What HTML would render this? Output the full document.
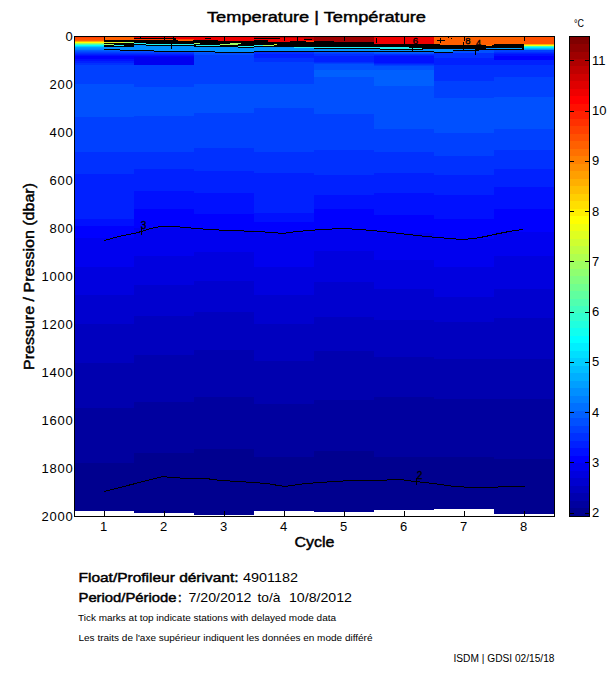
<!DOCTYPE html>
<html><head><meta charset="utf-8">
<style>
html,body{margin:0;padding:0;background:#fff;}
body{width:611px;height:675px;position:relative;overflow:hidden;}
svg{position:absolute;left:0;top:0;}
text{font-family:"Liberation Sans",sans-serif;fill:#000;}
</style></head><body>
<svg width="611" height="675" viewBox="0 0 611 675" shape-rendering="crispEdges">
<g id="heat">
<rect x="75" y="50" width="59" height="1" fill="#0060ff"/>
<rect x="75" y="51" width="59" height="1" fill="#0050ff"/>
<rect x="75" y="52" width="59" height="1" fill="#0040ff"/>
<rect x="75" y="53" width="59" height="1" fill="#0030ff"/>
<rect x="75" y="54" width="59" height="1" fill="#0020ff"/>
<rect x="75" y="55" width="59" height="1" fill="#0010ff"/>
<rect x="75" y="56" width="59" height="3" fill="#0000ff"/>
<rect x="75" y="59" width="59" height="2" fill="#0010ff"/>
<rect x="75" y="61" width="59" height="2" fill="#0020ff"/>
<rect x="75" y="63" width="59" height="2" fill="#0030ff"/>
<rect x="75" y="65" width="59" height="19" fill="#0040ff"/>
<rect x="75" y="84" width="59" height="33" fill="#0050ff"/>
<rect x="75" y="117" width="59" height="35" fill="#0040ff"/>
<rect x="75" y="152" width="59" height="22" fill="#0030ff"/>
<rect x="75" y="174" width="59" height="45" fill="#0020ff"/>
<rect x="75" y="219" width="59" height="7" fill="#0010ff"/>
<rect x="75" y="226" width="59" height="12" fill="#0000ff"/>
<rect x="75" y="238" width="59" height="29" fill="#0000ef"/>
<rect x="75" y="267" width="59" height="28" fill="#0000df"/>
<rect x="75" y="295" width="59" height="29" fill="#0000cf"/>
<rect x="75" y="324" width="59" height="39" fill="#0000bf"/>
<rect x="75" y="363" width="59" height="45" fill="#0000af"/>
<rect x="75" y="408" width="59" height="55" fill="#00009f"/>
<rect x="75" y="463" width="59" height="48" fill="#00008f"/>
<rect x="134" y="50" width="60" height="2" fill="#0050ff"/>
<rect x="134" y="52" width="60" height="1" fill="#0040ff"/>
<rect x="134" y="53" width="60" height="1" fill="#0030ff"/>
<rect x="134" y="54" width="60" height="1" fill="#0020ff"/>
<rect x="134" y="55" width="60" height="1" fill="#0010ff"/>
<rect x="134" y="56" width="60" height="1" fill="#0000ff"/>
<rect x="134" y="57" width="60" height="8" fill="#0000ef"/>
<rect x="134" y="65" width="60" height="22" fill="#0040ff"/>
<rect x="134" y="87" width="60" height="29" fill="#0050ff"/>
<rect x="134" y="116" width="60" height="36" fill="#0040ff"/>
<rect x="134" y="152" width="60" height="17" fill="#0030ff"/>
<rect x="134" y="169" width="60" height="22" fill="#0020ff"/>
<rect x="134" y="191" width="60" height="18" fill="#0010ff"/>
<rect x="134" y="209" width="60" height="19" fill="#0000ff"/>
<rect x="134" y="228" width="60" height="28" fill="#0000ef"/>
<rect x="134" y="256" width="60" height="29" fill="#0000df"/>
<rect x="134" y="285" width="60" height="31" fill="#0000cf"/>
<rect x="134" y="316" width="60" height="39" fill="#0000bf"/>
<rect x="134" y="355" width="60" height="47" fill="#0000af"/>
<rect x="134" y="402" width="60" height="51" fill="#00009f"/>
<rect x="134" y="453" width="60" height="60" fill="#00008f"/>
<rect x="194" y="50" width="60" height="3" fill="#0060ff"/>
<rect x="194" y="53" width="60" height="2" fill="#0050ff"/>
<rect x="194" y="55" width="60" height="29" fill="#0040ff"/>
<rect x="194" y="84" width="60" height="29" fill="#0050ff"/>
<rect x="194" y="113" width="60" height="35" fill="#0040ff"/>
<rect x="194" y="148" width="60" height="23" fill="#0030ff"/>
<rect x="194" y="171" width="60" height="22" fill="#0020ff"/>
<rect x="194" y="193" width="60" height="21" fill="#0010ff"/>
<rect x="194" y="214" width="60" height="16" fill="#0000ff"/>
<rect x="194" y="230" width="60" height="22" fill="#0000ef"/>
<rect x="194" y="252" width="60" height="29" fill="#0000df"/>
<rect x="194" y="281" width="60" height="31" fill="#0000cf"/>
<rect x="194" y="312" width="60" height="38" fill="#0000bf"/>
<rect x="194" y="350" width="60" height="47" fill="#0000af"/>
<rect x="194" y="397" width="60" height="52" fill="#00009f"/>
<rect x="194" y="449" width="60" height="66" fill="#00008f"/>
<rect x="254" y="50" width="60" height="2" fill="#0040ff"/>
<rect x="254" y="52" width="60" height="2" fill="#0030ff"/>
<rect x="254" y="54" width="60" height="4" fill="#0020ff"/>
<rect x="254" y="58" width="60" height="4" fill="#0030ff"/>
<rect x="254" y="62" width="60" height="22" fill="#0040ff"/>
<rect x="254" y="84" width="60" height="24" fill="#0050ff"/>
<rect x="254" y="108" width="60" height="44" fill="#0040ff"/>
<rect x="254" y="152" width="60" height="21" fill="#0030ff"/>
<rect x="254" y="173" width="60" height="40" fill="#0020ff"/>
<rect x="254" y="213" width="60" height="9" fill="#0010ff"/>
<rect x="254" y="222" width="60" height="11" fill="#0000ff"/>
<rect x="254" y="233" width="60" height="34" fill="#0000ef"/>
<rect x="254" y="267" width="60" height="28" fill="#0000df"/>
<rect x="254" y="295" width="60" height="29" fill="#0000cf"/>
<rect x="254" y="324" width="60" height="37" fill="#0000bf"/>
<rect x="254" y="361" width="60" height="43" fill="#0000af"/>
<rect x="254" y="404" width="60" height="53" fill="#00009f"/>
<rect x="254" y="457" width="60" height="54" fill="#00008f"/>
<rect x="314" y="50" width="60" height="3" fill="#0050ff"/>
<rect x="314" y="53" width="60" height="1" fill="#0040ff"/>
<rect x="314" y="54" width="60" height="2" fill="#0030ff"/>
<rect x="314" y="56" width="60" height="6" fill="#0020ff"/>
<rect x="314" y="62" width="60" height="1" fill="#0030ff"/>
<rect x="314" y="63" width="60" height="1" fill="#0040ff"/>
<rect x="314" y="64" width="60" height="6" fill="#0050ff"/>
<rect x="314" y="70" width="60" height="7" fill="#0060ff"/>
<rect x="314" y="77" width="60" height="37" fill="#0050ff"/>
<rect x="314" y="114" width="60" height="36" fill="#0040ff"/>
<rect x="314" y="150" width="60" height="25" fill="#0030ff"/>
<rect x="314" y="175" width="60" height="20" fill="#0020ff"/>
<rect x="314" y="195" width="60" height="14" fill="#0010ff"/>
<rect x="314" y="209" width="60" height="21" fill="#0000ff"/>
<rect x="314" y="230" width="60" height="21" fill="#0000ef"/>
<rect x="314" y="251" width="60" height="31" fill="#0000df"/>
<rect x="314" y="282" width="60" height="35" fill="#0000cf"/>
<rect x="314" y="317" width="60" height="34" fill="#0000bf"/>
<rect x="314" y="351" width="60" height="49" fill="#0000af"/>
<rect x="314" y="400" width="60" height="51" fill="#00009f"/>
<rect x="314" y="451" width="60" height="61" fill="#00008f"/>
<rect x="374" y="50" width="60" height="3" fill="#0060ff"/>
<rect x="374" y="53" width="60" height="1" fill="#0050ff"/>
<rect x="374" y="54" width="60" height="1" fill="#0030ff"/>
<rect x="374" y="55" width="60" height="1" fill="#0020ff"/>
<rect x="374" y="56" width="60" height="7" fill="#0010ff"/>
<rect x="374" y="63" width="60" height="1" fill="#0020ff"/>
<rect x="374" y="64" width="60" height="1" fill="#0030ff"/>
<rect x="374" y="65" width="60" height="1" fill="#0040ff"/>
<rect x="374" y="66" width="60" height="4" fill="#0050ff"/>
<rect x="374" y="70" width="60" height="16" fill="#0060ff"/>
<rect x="374" y="86" width="60" height="43" fill="#0050ff"/>
<rect x="374" y="129" width="60" height="23" fill="#0040ff"/>
<rect x="374" y="152" width="60" height="21" fill="#0030ff"/>
<rect x="374" y="173" width="60" height="20" fill="#0020ff"/>
<rect x="374" y="193" width="60" height="22" fill="#0010ff"/>
<rect x="374" y="215" width="60" height="18" fill="#0000ff"/>
<rect x="374" y="233" width="60" height="27" fill="#0000ef"/>
<rect x="374" y="260" width="60" height="29" fill="#0000df"/>
<rect x="374" y="289" width="60" height="31" fill="#0000cf"/>
<rect x="374" y="320" width="60" height="37" fill="#0000bf"/>
<rect x="374" y="357" width="60" height="40" fill="#0000af"/>
<rect x="374" y="397" width="60" height="60" fill="#00009f"/>
<rect x="374" y="457" width="60" height="53" fill="#00008f"/>
<rect x="434" y="50" width="60" height="3" fill="#0050ff"/>
<rect x="434" y="53" width="60" height="5" fill="#0030ff"/>
<rect x="434" y="58" width="60" height="7" fill="#0020ff"/>
<rect x="434" y="65" width="60" height="16" fill="#0030ff"/>
<rect x="434" y="81" width="60" height="17" fill="#0040ff"/>
<rect x="434" y="98" width="60" height="35" fill="#0050ff"/>
<rect x="434" y="133" width="60" height="23" fill="#0040ff"/>
<rect x="434" y="156" width="60" height="19" fill="#0030ff"/>
<rect x="434" y="175" width="60" height="20" fill="#0020ff"/>
<rect x="434" y="195" width="60" height="24" fill="#0010ff"/>
<rect x="434" y="219" width="60" height="20" fill="#0000ff"/>
<rect x="434" y="239" width="60" height="28" fill="#0000ef"/>
<rect x="434" y="267" width="60" height="30" fill="#0000df"/>
<rect x="434" y="297" width="60" height="25" fill="#0000cf"/>
<rect x="434" y="322" width="60" height="37" fill="#0000bf"/>
<rect x="434" y="359" width="60" height="40" fill="#0000af"/>
<rect x="434" y="399" width="60" height="58" fill="#00009f"/>
<rect x="434" y="457" width="60" height="52" fill="#00008f"/>
<rect x="494" y="50" width="60" height="2" fill="#0040ff"/>
<rect x="494" y="52" width="60" height="1" fill="#0030ff"/>
<rect x="494" y="53" width="60" height="1" fill="#0020ff"/>
<rect x="494" y="54" width="60" height="2" fill="#0010ff"/>
<rect x="494" y="56" width="60" height="4" fill="#0000ff"/>
<rect x="494" y="60" width="60" height="5" fill="#0020ff"/>
<rect x="494" y="65" width="60" height="12" fill="#0030ff"/>
<rect x="494" y="77" width="60" height="20" fill="#0040ff"/>
<rect x="494" y="97" width="60" height="32" fill="#0050ff"/>
<rect x="494" y="129" width="60" height="21" fill="#0040ff"/>
<rect x="494" y="150" width="60" height="19" fill="#0030ff"/>
<rect x="494" y="169" width="60" height="18" fill="#0020ff"/>
<rect x="494" y="187" width="60" height="22" fill="#0010ff"/>
<rect x="494" y="209" width="60" height="23" fill="#0000ff"/>
<rect x="494" y="232" width="60" height="24" fill="#0000ef"/>
<rect x="494" y="256" width="60" height="33" fill="#0000df"/>
<rect x="494" y="289" width="60" height="29" fill="#0000cf"/>
<rect x="494" y="318" width="60" height="41" fill="#0000bf"/>
<rect x="494" y="359" width="60" height="40" fill="#0000af"/>
<rect x="494" y="399" width="60" height="60" fill="#00009f"/>
<rect x="494" y="459" width="60" height="55" fill="#00008f"/>
<rect x="75" y="37" width="29" height="1" fill="#ff4000"/>
<rect x="75" y="38" width="29" height="1" fill="#ff5000"/>
<rect x="75" y="39" width="29" height="1" fill="#ff5000"/>
<rect x="75" y="40" width="29" height="1" fill="#ff6000"/>
<rect x="75" y="41" width="29" height="1" fill="#ffaf00"/>
<rect x="75" y="42" width="29" height="1" fill="#ffff00"/>
<rect x="75" y="43" width="29" height="1" fill="#9fff60"/>
<rect x="75" y="44" width="29" height="1" fill="#50ffaf"/>
<rect x="75" y="45" width="29" height="1" fill="#00ffff"/>
<rect x="75" y="46" width="29" height="1" fill="#00cfff"/>
<rect x="75" y="47" width="29" height="1" fill="#009fff"/>
<rect x="75" y="48" width="29" height="1" fill="#008fff"/>
<rect x="75" y="49" width="29" height="1" fill="#0080ff"/>
<rect x="524" y="37" width="30" height="1" fill="#ff5000"/>
<rect x="524" y="38" width="30" height="1" fill="#ff5000"/>
<rect x="524" y="39" width="30" height="1" fill="#ff5000"/>
<rect x="524" y="40" width="30" height="1" fill="#ff5000"/>
<rect x="524" y="41" width="30" height="1" fill="#ff5000"/>
<rect x="524" y="42" width="30" height="1" fill="#ff5000"/>
<rect x="524" y="43" width="30" height="1" fill="#ff5000"/>
<rect x="524" y="44" width="30" height="1" fill="#ffaf00"/>
<rect x="524" y="45" width="30" height="1" fill="#efff10"/>
<rect x="524" y="46" width="30" height="1" fill="#40ffbf"/>
<rect x="524" y="47" width="30" height="1" fill="#00efff"/>
<rect x="524" y="48" width="30" height="1" fill="#00bfff"/>
<rect x="524" y="49" width="30" height="1" fill="#008fff"/>
</g>
<g id="top"><rect x="104" y="37" width="1" height="1" fill="#000000"/>
<rect x="105" y="37" width="29" height="1" fill="#ff6000"/>
<rect x="134" y="37" width="6" height="1" fill="#ef0000"/>
<rect x="140" y="37" width="1" height="1" fill="#000000"/>
<rect x="141" y="37" width="23" height="1" fill="#ef0000"/>
<rect x="164" y="37" width="1" height="1" fill="#000000"/>
<rect x="165" y="37" width="8" height="1" fill="#ef0000"/>
<rect x="173" y="37" width="1" height="1" fill="#000000"/>
<rect x="174" y="37" width="80" height="1" fill="#ef0000"/>
<rect x="254" y="37" width="60" height="1" fill="#c00000"/>
<rect x="314" y="37" width="30" height="1" fill="#a00000"/>
<rect x="344" y="37" width="1" height="1" fill="#000000"/>
<rect x="345" y="37" width="29" height="1" fill="#a00000"/>
<rect x="374" y="37" width="30" height="1" fill="#ef0000"/>
<rect x="404" y="37" width="1" height="1" fill="#000000"/>
<rect x="405" y="37" width="29" height="1" fill="#ef0000"/>
<rect x="434" y="37" width="90" height="1" fill="#ff6000"/>
<rect x="104" y="38" width="1" height="1" fill="#000000"/>
<rect x="105" y="38" width="29" height="1" fill="#ff6000"/>
<rect x="134" y="38" width="42" height="1" fill="#000000"/>
<rect x="176" y="38" width="29" height="1" fill="#ef0000"/>
<rect x="205" y="38" width="6" height="1" fill="#000000"/>
<rect x="211" y="38" width="43" height="1" fill="#ef0000"/>
<rect x="254" y="38" width="26" height="1" fill="#000000"/>
<rect x="280" y="38" width="24" height="1" fill="#ef0000"/>
<rect x="304" y="38" width="10" height="1" fill="#c00000"/>
<rect x="314" y="38" width="30" height="1" fill="#a00000"/>
<rect x="344" y="38" width="1" height="1" fill="#000000"/>
<rect x="345" y="38" width="29" height="1" fill="#a00000"/>
<rect x="374" y="38" width="2" height="1" fill="#ef0000"/>
<rect x="376" y="38" width="1" height="1" fill="#000000"/>
<rect x="377" y="38" width="27" height="1" fill="#ef0000"/>
<rect x="404" y="38" width="1" height="1" fill="#000000"/>
<rect x="405" y="38" width="29" height="1" fill="#ef0000"/>
<rect x="434" y="38" width="90" height="1" fill="#ff6000"/>
<rect x="104" y="39" width="1" height="1" fill="#000000"/>
<rect x="105" y="39" width="29" height="1" fill="#ff6000"/>
<rect x="134" y="39" width="30" height="1" fill="#ff4000"/>
<rect x="164" y="39" width="1" height="1" fill="#000000"/>
<rect x="165" y="39" width="8" height="1" fill="#ff4000"/>
<rect x="173" y="39" width="3" height="1" fill="#000000"/>
<rect x="176" y="39" width="18" height="1" fill="#ff4000"/>
<rect x="194" y="39" width="110" height="1" fill="#ef0000"/>
<rect x="304" y="39" width="8" height="1" fill="#000000"/>
<rect x="312" y="39" width="2" height="1" fill="#c00000"/>
<rect x="314" y="39" width="30" height="1" fill="#a00000"/>
<rect x="344" y="39" width="1" height="1" fill="#000000"/>
<rect x="345" y="39" width="29" height="1" fill="#a00000"/>
<rect x="374" y="39" width="2" height="1" fill="#ef0000"/>
<rect x="376" y="39" width="1" height="1" fill="#000000"/>
<rect x="377" y="39" width="27" height="1" fill="#ef0000"/>
<rect x="404" y="39" width="1" height="1" fill="#000000"/>
<rect x="405" y="39" width="29" height="1" fill="#ef0000"/>
<rect x="434" y="39" width="90" height="1" fill="#ff6000"/>
<rect x="104" y="40" width="74" height="1" fill="#000000"/>
<rect x="178" y="40" width="15" height="1" fill="#ff6000"/>
<rect x="193" y="40" width="25" height="1" fill="#000000"/>
<rect x="218" y="40" width="36" height="1" fill="#ef0000"/>
<rect x="254" y="40" width="14" height="1" fill="#000000"/>
<rect x="268" y="40" width="46" height="1" fill="#ef0000"/>
<rect x="314" y="40" width="30" height="1" fill="#a00000"/>
<rect x="344" y="40" width="1" height="1" fill="#000000"/>
<rect x="345" y="40" width="29" height="1" fill="#a00000"/>
<rect x="374" y="40" width="2" height="1" fill="#ef0000"/>
<rect x="376" y="40" width="1" height="1" fill="#000000"/>
<rect x="377" y="40" width="27" height="1" fill="#ef0000"/>
<rect x="404" y="40" width="1" height="1" fill="#000000"/>
<rect x="405" y="40" width="29" height="1" fill="#ef0000"/>
<rect x="434" y="40" width="90" height="1" fill="#ff6000"/>
<rect x="104" y="41" width="164" height="1" fill="#000000"/>
<rect x="268" y="41" width="22" height="1" fill="#ef0000"/>
<rect x="290" y="41" width="16" height="1" fill="#000000"/>
<rect x="306" y="41" width="8" height="1" fill="#ff4000"/>
<rect x="314" y="41" width="20" height="1" fill="#000000"/>
<rect x="334" y="41" width="40" height="1" fill="#a00000"/>
<rect x="374" y="41" width="2" height="1" fill="#ef0000"/>
<rect x="376" y="41" width="1" height="1" fill="#000000"/>
<rect x="377" y="41" width="27" height="1" fill="#ef0000"/>
<rect x="404" y="41" width="1" height="1" fill="#000000"/>
<rect x="405" y="41" width="29" height="1" fill="#ef0000"/>
<rect x="434" y="41" width="90" height="1" fill="#ff6000"/>
<rect x="104" y="42" width="20" height="1" fill="#e0f020"/>
<rect x="124" y="42" width="10" height="1" fill="#a0ff60"/>
<rect x="134" y="42" width="240" height="1" fill="#000000"/>
<rect x="374" y="42" width="2" height="1" fill="#ef0000"/>
<rect x="376" y="42" width="1" height="1" fill="#000000"/>
<rect x="377" y="42" width="27" height="1" fill="#ef0000"/>
<rect x="404" y="42" width="1" height="1" fill="#000000"/>
<rect x="405" y="42" width="29" height="1" fill="#ef0000"/>
<rect x="434" y="42" width="90" height="1" fill="#ff6000"/>
<rect x="104" y="43" width="30" height="1" fill="#000000"/>
<rect x="134" y="43" width="12" height="1" fill="#20f0f0"/>
<rect x="146" y="43" width="48" height="1" fill="#000000"/>
<rect x="194" y="43" width="6" height="1" fill="#a0ff60"/>
<rect x="200" y="43" width="30" height="1" fill="#000000"/>
<rect x="230" y="43" width="11" height="1" fill="#a0ff60"/>
<rect x="241" y="43" width="133" height="1" fill="#000000"/>
<rect x="374" y="43" width="30" height="1" fill="#ef0000"/>
<rect x="404" y="43" width="1" height="1" fill="#000000"/>
<rect x="405" y="43" width="29" height="1" fill="#ef0000"/>
<rect x="434" y="43" width="90" height="1" fill="#ff6000"/>
<rect x="104" y="44" width="10" height="1" fill="#a0ff60"/>
<rect x="114" y="44" width="32" height="1" fill="#000000"/>
<rect x="146" y="44" width="25" height="1" fill="#20f0f0"/>
<rect x="171" y="44" width="1" height="1" fill="#000000"/>
<rect x="172" y="44" width="22" height="1" fill="#20f0f0"/>
<rect x="194" y="44" width="26" height="1" fill="#000000"/>
<rect x="220" y="44" width="18" height="1" fill="#a0ff60"/>
<rect x="238" y="44" width="36" height="1" fill="#000000"/>
<rect x="274" y="44" width="3" height="1" fill="#e0f020"/>
<rect x="277" y="44" width="163" height="1" fill="#000000"/>
<rect x="440" y="44" width="54" height="1" fill="#ff6000"/>
<rect x="494" y="44" width="30" height="1" fill="#000000"/>
<rect x="104" y="45" width="10" height="1" fill="#000000"/>
<rect x="114" y="45" width="10" height="1" fill="#20f0f0"/>
<rect x="124" y="45" width="10" height="1" fill="#000000"/>
<rect x="134" y="45" width="12" height="1" fill="#0090ff"/>
<rect x="146" y="45" width="50" height="1" fill="#000000"/>
<rect x="196" y="45" width="24" height="1" fill="#20f0f0"/>
<rect x="220" y="45" width="34" height="1" fill="#000000"/>
<rect x="254" y="45" width="9" height="1" fill="#20f0f0"/>
<rect x="263" y="45" width="11" height="1" fill="#a0ff60"/>
<rect x="274" y="45" width="212" height="1" fill="#000000"/>
<rect x="486" y="45" width="5" height="1" fill="#ff6000"/>
<rect x="491" y="45" width="33" height="1" fill="#000000"/>
<rect x="104" y="46" width="30" height="1" fill="#000000"/>
<rect x="134" y="46" width="37" height="1" fill="#0090ff"/>
<rect x="171" y="46" width="1" height="1" fill="#000000"/>
<rect x="172" y="46" width="22" height="1" fill="#0090ff"/>
<rect x="194" y="46" width="44" height="1" fill="#000000"/>
<rect x="238" y="46" width="16" height="1" fill="#20f0f0"/>
<rect x="254" y="46" width="270" height="1" fill="#000000"/>
<rect x="104" y="47" width="67" height="1" fill="#0090ff"/>
<rect x="171" y="47" width="1" height="1" fill="#000000"/>
<rect x="172" y="47" width="66" height="1" fill="#0090ff"/>
<rect x="238" y="47" width="16" height="1" fill="#000000"/>
<rect x="254" y="47" width="40" height="1" fill="#0090ff"/>
<rect x="294" y="47" width="115" height="1" fill="#20f0f0"/>
<rect x="409" y="47" width="115" height="1" fill="#000000"/>
<rect x="104" y="48" width="67" height="1" fill="#0090ff"/>
<rect x="171" y="48" width="1" height="1" fill="#000000"/>
<rect x="172" y="48" width="142" height="1" fill="#0090ff"/>
<rect x="314" y="48" width="66" height="1" fill="#000000"/>
<rect x="380" y="48" width="42" height="1" fill="#20f0f0"/>
<rect x="422" y="48" width="64" height="1" fill="#000000"/>
<rect x="486" y="48" width="11" height="1" fill="#0090ff"/>
<rect x="497" y="48" width="25" height="1" fill="#00a0ff"/>
<rect x="522" y="48" width="2" height="1" fill="#000000"/>
<rect x="104" y="49" width="16" height="1" fill="#000000"/>
<rect x="120" y="49" width="260" height="1" fill="#0090ff"/>
<rect x="380" y="49" width="43" height="1" fill="#000000"/>
<rect x="423" y="49" width="52" height="1" fill="#0090ff"/>
<rect x="475" y="49" width="49" height="1" fill="#000000"/>
<rect x="120" y="50" width="34" height="1" fill="#000000"/>
<rect x="154" y="50" width="299" height="1" fill="#0090ff"/>
<rect x="453" y="50" width="26" height="1" fill="#000000"/>
<rect x="479" y="50" width="15" height="1" fill="#0050ff"/>
<rect x="154" y="51" width="61" height="1" fill="#000000"/>
<rect x="215" y="51" width="39" height="1" fill="#0090ff"/>
<rect x="254" y="51" width="180" height="1" fill="#000000"/>
<rect x="434" y="51" width="19" height="1" fill="#0090ff"/>
<rect x="453" y="51" width="41" height="1" fill="#0050ff"/>
<rect x="215" y="52" width="39" height="1" fill="#000000"/>
<rect x="434" y="52" width="19" height="1" fill="#000000"/></g>
<g shape-rendering="crispEdges">
<polyline fill="none" stroke="#000" stroke-width="1" points="104.0,240.5 119.0,236.5 138.0,232.5 149.0,229.0 160.0,226.5 176.0,226.5 184.0,227.5 197.0,228.5 208.0,229.5 230.0,230.5 257.0,231.5 273.0,232.5 283.0,233.5 290.0,232.5 297.0,231.5 310.0,230.5 321.0,229.5 343.0,228.5 360.0,229.5 372.0,230.5 382.0,231.5 392.0,232.5 400.0,233.5 408.0,234.5 417.0,235.5 426.0,236.5 438.0,237.5 449.0,238.5 462.0,239.5 474.0,238.5 480.0,237.5 485.0,236.5 490.0,235.5 494.0,234.5 499.0,233.5 504.0,232.5 509.0,231.5 516.0,230.5 523.0,229.5"/>
<polyline fill="none" stroke="#000" stroke-width="1" points="104.0,491.5 163.0,476.5 171.0,477.5 188.0,478.5 207.0,478.5 212.0,479.5 222.0,480.5 238.0,481.5 254.0,482.5 266.0,483.5 273.0,484.5 278.0,485.5 285.0,486.5 292.0,485.5 298.0,484.5 307.0,483.5 320.0,482.5 335.0,481.5 352.0,480.5 374.0,480.5 400.0,479.5 407.0,480.5 415.0,481.5 425.0,482.5 433.0,483.5 441.0,484.5 447.0,485.5 454.0,486.5 474.0,487.5 490.0,487.5 507.0,486.5 525.0,486.5"/>
<rect x="141" y="227" width="1" height="8" fill="#000"/>
<rect x="416" y="478" width="1" height="7" fill="#000"/>
<rect x="104" y="37" width="1" height="4" fill="#000"/>
<rect x="164" y="37" width="1" height="4" fill="#000"/>
<rect x="224" y="37" width="1" height="4" fill="#000"/>
<rect x="284" y="37" width="1" height="4" fill="#000"/>
<rect x="344" y="37" width="1" height="4" fill="#000"/>
<rect x="404" y="37" width="1" height="4" fill="#000"/>
<rect x="464" y="37" width="1" height="4" fill="#000"/>
<rect x="524" y="37" width="1" height="4" fill="#000"/>
<rect x="437" y="40" width="8" height="1" fill="#000"/>
<rect x="440" y="38" width="1" height="5" fill="#000"/>
<rect x="412" y="46" width="1" height="5" fill="#000"/>
<rect x="463" y="42" width="1" height="8" fill="#000"/>
<rect x="475" y="48" width="1" height="7" fill="#000"/>
<rect x="171" y="44" width="1" height="5" fill="#000"/>
<rect x="297" y="37" width="1" height="5" fill="#000"/>
<rect x="448" y="37" width="1" height="1" fill="#000"/>
<rect x="451" y="38" width="1" height="1" fill="#000"/>
<rect x="486" y="45" width="6" height="1" fill="#ff8000"/>
</g>
<text x="143.5" y="228.5" font-size="10" stroke="#000" stroke-width="0.35" text-anchor="middle">3</text>
<text x="419.5" y="478.5" font-size="10" stroke="#000" stroke-width="0.35" text-anchor="middle">2</text>
<text x="415.5" y="44" font-size="9.5" stroke="#000" stroke-width="0.35" text-anchor="middle">6</text>
<text x="467.8" y="43.5" font-size="9.5" stroke="#000" stroke-width="0.35" text-anchor="middle">8</text>
<text x="478.5" y="45.5" font-size="9" stroke="#000" stroke-width="0.35" text-anchor="middle">4</text>
<!-- axes box -->
<rect x="74.5" y="36.5" width="480" height="479.5" fill="none" stroke="#000" stroke-width="1"/>
<!-- x ticks -->
<g stroke="#000" stroke-width="1">
<line x1="104.5" y1="511" x2="104.5" y2="516"/>
<line x1="164.5" y1="511" x2="164.5" y2="516"/>
<line x1="224.5" y1="511" x2="224.5" y2="516"/>
<line x1="284.5" y1="511" x2="284.5" y2="516"/>
<line x1="344.5" y1="511" x2="344.5" y2="516"/>
<line x1="404.5" y1="511" x2="404.5" y2="516"/>
<line x1="464.5" y1="511" x2="464.5" y2="516"/>
<line x1="524.5" y1="511" x2="524.5" y2="516"/>
</g>
<!-- colorbar -->
<g id="cb">
<rect x="570" y="508.02" width="19" height="7.53" fill="#00008f"/>
<rect x="570" y="500.53" width="19" height="7.53" fill="#00009f"/>
<rect x="570" y="493.05" width="19" height="7.53" fill="#0000af"/>
<rect x="570" y="485.56" width="19" height="7.53" fill="#0000bf"/>
<rect x="570" y="478.08" width="19" height="7.53" fill="#0000cf"/>
<rect x="570" y="470.59" width="19" height="7.53" fill="#0000df"/>
<rect x="570" y="463.11" width="19" height="7.53" fill="#0000ef"/>
<rect x="570" y="455.62" width="19" height="7.53" fill="#0000ff"/>
<rect x="570" y="448.14" width="19" height="7.53" fill="#0010ff"/>
<rect x="570" y="440.66" width="19" height="7.53" fill="#0020ff"/>
<rect x="570" y="433.17" width="19" height="7.53" fill="#0030ff"/>
<rect x="570" y="425.69" width="19" height="7.53" fill="#0040ff"/>
<rect x="570" y="418.20" width="19" height="7.53" fill="#0050ff"/>
<rect x="570" y="410.72" width="19" height="7.53" fill="#0060ff"/>
<rect x="570" y="403.23" width="19" height="7.53" fill="#0070ff"/>
<rect x="570" y="395.75" width="19" height="7.53" fill="#0080ff"/>
<rect x="570" y="388.27" width="19" height="7.53" fill="#008fff"/>
<rect x="570" y="380.78" width="19" height="7.53" fill="#009fff"/>
<rect x="570" y="373.30" width="19" height="7.53" fill="#00afff"/>
<rect x="570" y="365.81" width="19" height="7.53" fill="#00bfff"/>
<rect x="570" y="358.33" width="19" height="7.53" fill="#00cfff"/>
<rect x="570" y="350.84" width="19" height="7.53" fill="#00dfff"/>
<rect x="570" y="343.36" width="19" height="7.53" fill="#00efff"/>
<rect x="570" y="335.88" width="19" height="7.53" fill="#00ffff"/>
<rect x="570" y="328.39" width="19" height="7.53" fill="#10ffef"/>
<rect x="570" y="320.91" width="19" height="7.53" fill="#20ffdf"/>
<rect x="570" y="313.42" width="19" height="7.53" fill="#30ffcf"/>
<rect x="570" y="305.94" width="19" height="7.53" fill="#40ffbf"/>
<rect x="570" y="298.45" width="19" height="7.53" fill="#50ffaf"/>
<rect x="570" y="290.97" width="19" height="7.53" fill="#60ff9f"/>
<rect x="570" y="283.48" width="19" height="7.53" fill="#70ff8f"/>
<rect x="570" y="276.00" width="19" height="7.53" fill="#80ff80"/>
<rect x="570" y="268.52" width="19" height="7.53" fill="#8fff70"/>
<rect x="570" y="261.03" width="19" height="7.53" fill="#9fff60"/>
<rect x="570" y="253.55" width="19" height="7.53" fill="#afff50"/>
<rect x="570" y="246.06" width="19" height="7.53" fill="#bfff40"/>
<rect x="570" y="238.58" width="19" height="7.53" fill="#cfff30"/>
<rect x="570" y="231.09" width="19" height="7.53" fill="#dfff20"/>
<rect x="570" y="223.61" width="19" height="7.53" fill="#efff10"/>
<rect x="570" y="216.12" width="19" height="7.53" fill="#ffff00"/>
<rect x="570" y="208.64" width="19" height="7.53" fill="#ffef00"/>
<rect x="570" y="201.16" width="19" height="7.53" fill="#ffdf00"/>
<rect x="570" y="193.67" width="19" height="7.53" fill="#ffcf00"/>
<rect x="570" y="186.19" width="19" height="7.53" fill="#ffbf00"/>
<rect x="570" y="178.70" width="19" height="7.53" fill="#ffaf00"/>
<rect x="570" y="171.22" width="19" height="7.53" fill="#ff9f00"/>
<rect x="570" y="163.73" width="19" height="7.53" fill="#ff8f00"/>
<rect x="570" y="156.25" width="19" height="7.53" fill="#ff8000"/>
<rect x="570" y="148.77" width="19" height="7.53" fill="#ff7000"/>
<rect x="570" y="141.28" width="19" height="7.53" fill="#ff6000"/>
<rect x="570" y="133.80" width="19" height="7.53" fill="#ff5000"/>
<rect x="570" y="126.31" width="19" height="7.53" fill="#ff4000"/>
<rect x="570" y="118.83" width="19" height="7.53" fill="#ff3000"/>
<rect x="570" y="111.34" width="19" height="7.53" fill="#ff2000"/>
<rect x="570" y="103.86" width="19" height="7.53" fill="#ff1000"/>
<rect x="570" y="96.38" width="19" height="7.53" fill="#ff0000"/>
<rect x="570" y="88.89" width="19" height="7.53" fill="#ef0000"/>
<rect x="570" y="81.41" width="19" height="7.53" fill="#df0000"/>
<rect x="570" y="73.92" width="19" height="7.53" fill="#cf0000"/>
<rect x="570" y="66.44" width="19" height="7.53" fill="#bf0000"/>
<rect x="570" y="58.95" width="19" height="7.53" fill="#af0000"/>
<rect x="570" y="51.47" width="19" height="7.53" fill="#9f0000"/>
<rect x="570" y="43.98" width="19" height="7.53" fill="#8f0000"/>
<rect x="570" y="36.50" width="19" height="7.53" fill="#800000"/>
</g>
<rect x="569.5" y="36.5" width="20" height="479.5" fill="none" stroke="#000" stroke-width="1"/>
<g stroke="#000" stroke-width="1">
<line x1="570" y1="513.5" x2="574" y2="513.5"/><line x1="585" y1="513.5" x2="589" y2="513.5"/>
<line x1="570" y1="462.5" x2="574" y2="462.5"/><line x1="585" y1="462.5" x2="589" y2="462.5"/>
<line x1="570" y1="412.5" x2="574" y2="412.5"/><line x1="585" y1="412.5" x2="589" y2="412.5"/>
<line x1="570" y1="362.5" x2="574" y2="362.5"/><line x1="585" y1="362.5" x2="589" y2="362.5"/>
<line x1="570" y1="312.5" x2="574" y2="312.5"/><line x1="585" y1="312.5" x2="589" y2="312.5"/>
<line x1="570" y1="261.5" x2="574" y2="261.5"/><line x1="585" y1="261.5" x2="589" y2="261.5"/>
<line x1="570" y1="211.5" x2="574" y2="211.5"/><line x1="585" y1="211.5" x2="589" y2="211.5"/>
<line x1="570" y1="161.5" x2="574" y2="161.5"/><line x1="585" y1="161.5" x2="589" y2="161.5"/>
<line x1="570" y1="111.5" x2="574" y2="111.5"/><line x1="585" y1="111.5" x2="589" y2="111.5"/>
<line x1="570" y1="60.5" x2="574" y2="60.5"/><line x1="585" y1="60.5" x2="589" y2="60.5"/>
</g>
<g font-size="13" text-anchor="end" letter-spacing="0.8">
<text x="73.6" y="41.0">0</text>
<text x="73.6" y="89.0">200</text>
<text x="73.6" y="136.9">400</text>
<text x="73.6" y="184.8">600</text>
<text x="73.6" y="232.8">800</text>
<text x="73.6" y="280.8">1000</text>
<text x="73.6" y="328.7">1200</text>
<text x="73.6" y="376.6">1400</text>
<text x="73.6" y="424.6">1600</text>
<text x="73.6" y="472.6">1800</text>
<text x="73.6" y="520.5">2000</text>
</g>
<g font-size="13" text-anchor="middle">
<text x="103.5" y="531">1</text>
<text x="163.5" y="531">2</text>
<text x="223.5" y="531">3</text>
<text x="283.5" y="531">4</text>
<text x="343.5" y="531">5</text>
<text x="403.5" y="531">6</text>
<text x="463.5" y="531">7</text>
<text x="523.5" y="531">8</text>
</g>
<g font-size="13" text-anchor="start">
<text x="592" y="517.1">2</text>
<text x="592" y="466.9">3</text>
<text x="592" y="416.6">4</text>
<text x="592" y="366.4">5</text>
<text x="592" y="316.1">6</text>
<text x="592" y="265.9">7</text>
<text x="592" y="215.6">8</text>
<text x="592" y="165.4">9</text>
<text x="592" y="115.1">10</text>
<text x="592" y="64.9">11</text>
</g>
<text x="207" y="22" font-size="15.5" font-weight="normal" stroke="#000" stroke-width="0.45" textLength="219" lengthAdjust="spacingAndGlyphs">Temperature | Température</text>
<text x="294.5" y="547" font-size="15" font-weight="normal" stroke="#000" stroke-width="0.45" textLength="40" lengthAdjust="spacingAndGlyphs">Cycle</text>
<text transform="translate(34,370) rotate(-90)" font-size="15" font-weight="normal" stroke="#000" stroke-width="0.45" textLength="187" lengthAdjust="spacingAndGlyphs">Pressure / Pression (dbar)</text>
<text x="574" y="27.3" font-size="10.3" textLength="10" lengthAdjust="spacingAndGlyphs">°C</text>
<text x="78.5" y="582" font-size="13" font-weight="normal" stroke="#000" stroke-width="0.45" textLength="160" lengthAdjust="spacingAndGlyphs">Float/Profileur dérivant:</text>
<text x="243" y="582" font-size="13" textLength="55" lengthAdjust="spacingAndGlyphs">4901182</text>
<text x="78.5" y="602" font-size="13" font-weight="normal" stroke="#000" stroke-width="0.45" textLength="98" lengthAdjust="spacingAndGlyphs">Period/Période</text>
<text x="178" y="602" font-size="13" font-weight="normal" stroke="#000" stroke-width="0.45">:</text>
<text x="188.5" y="602" font-size="13" textLength="63" lengthAdjust="spacingAndGlyphs">7/20/2012</text>
<text x="257.5" y="602" font-size="13" textLength="23" lengthAdjust="spacingAndGlyphs">to/à</text>
<text x="289" y="602" font-size="13" textLength="63" lengthAdjust="spacingAndGlyphs">10/8/2012</text>
<text x="78" y="621" font-size="9.5" textLength="258" lengthAdjust="spacingAndGlyphs">Tick marks at top indicate stations with delayed mode data</text>
<text x="78.5" y="641" font-size="9.5" textLength="294" lengthAdjust="spacingAndGlyphs">Les traits de l'axe supérieur indiquent les données en mode différé</text>
<text x="453.5" y="662" font-size="10" textLength="101" lengthAdjust="spacingAndGlyphs">ISDM | GDSI  02/15/18</text>
</svg>
</body></html>
